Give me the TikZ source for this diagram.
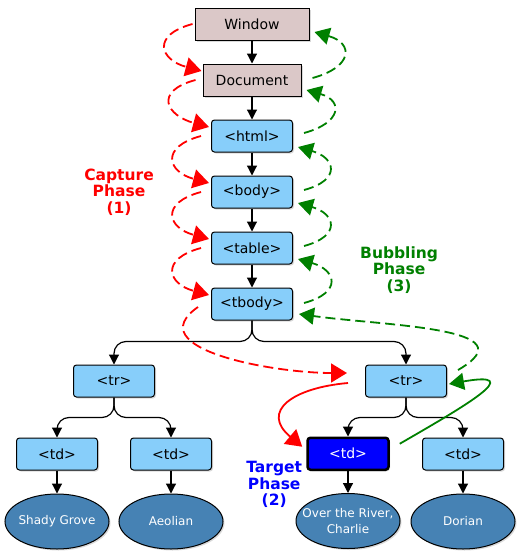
\documentclass[tikz,border=0pt]{standalone}
\usepackage{fontspec}
\setmainfont{DejaVu Sans}
\usepackage{tikz}
\usetikzlibrary{positioning,arrows.meta,shadows,shapes.geometric}
\definecolor{winclr}{RGB}{219,200,200}
\definecolor{elemclr}{RGB}{135,206,250}
\definecolor{leafclr}{RGB}{70,130,180}
\definecolor{capclr}{RGB}{255,0,0}
\definecolor{bubclr}{RGB}{0,128,0}
\definecolor{tgtclr}{RGB}{0,0,255}
\tikzset{ %
  ,>={Triangle[length=10pt,width=10pt]}
  ,every node/.style={font=\fontsize{14}{16}\selectfont}
  ,soft/.style={drop shadow={shadow xshift=1.5pt, shadow yshift=-1.5pt, opacity=0.3}}
  ,winbox/.style={draw, line width=1pt, fill=winclr, minimum height=32pt, soft}
  ,elem/.style={draw, line width=1pt, rounded corners=3pt, fill=elemclr, minimum width=81pt, minimum height=32pt, soft}
  ,target/.style={elem, fill=tgtclr, text=white, line width=2.5pt}
  ,leaf/.style={draw, ellipse, line width=1pt, fill=leafclr, text=white, inner sep=0, inner xsep=-15pt, minimum width=104pt, minimum height=55pt, align=center, font=\fontsize{12}{16}\selectfont, soft}
  ,phaselbl/.style={inner sep=0, align=center, font=\bfseries\fontsize{15.5}{16.5}\selectfont}
  ,tree/.style={line width=1.2pt}
  ,branch/.style={->, tree, rounded corners=12pt}
  ,capture/.style={color=capclr, line width=1.8pt, dash pattern=on 10pt off 5pt, -{Triangle[length=16pt,width=19pt]}, out=195, in=165, looseness=2.3}
  ,bubble/.style={color=bubclr, line width=1.8pt, dash pattern=on 10pt off 5pt, -{Triangle[length=15pt,width=17pt]}, out=15, in=-16, looseness=2.3}
}
\begin{document}
\begin{tikzpicture}[x=1pt, y=1pt]
      \useasboundingbox (0,0) rectangle (520,-560);
      \draw
      node[winbox, minimum width=114pt] (win) at (252,-24) {Window}
      node[winbox, minimum width=98pt, below=23pt of win] (doc) {Document}
      node[elem, below=23pt of doc] (html) {<html>}
      node[elem, below=23pt of html] (body) {<body>}
      node[elem, below=23pt of body] (table) {<table>}
      node[elem, below=23pt of table] (tbody) {<tbody>}
      node[elem, below=44pt of tbody, xshift=-138pt] (trL) {<tr>}
      node[elem, below=44pt of tbody, xshift=154pt] (trR) {<tr>}
      node[elem, below=40pt of trL, xshift=-57pt] (tdA) {<td>}
      node[elem, below=40pt of trL, xshift=57pt] (tdB) {<td>}
      node[target, below=39pt of trR, xshift=-58pt] (tdC) {<td>}
      node[elem, below=40pt of trR, xshift=57pt] (tdD) {<td>}
      node[leaf, below=23pt of tdA] (shady) {Shady Grove}
      node[leaf, below=23pt of tdB] (aeolian) {Aeolian}
      node[leaf, below=22pt of tdC] (river) {Over the River,\\Charlie}
      node[leaf, below=23pt of tdD] (dorian) {Dorian};
      \draw [->, tree] (win) edge (doc) (doc) edge (html) (html) edge (body) (body) edge (table) (table) edge (tbody)
        (tdA) edge (shady) (tdB) edge (aeolian) (tdC) edge (river) (tdD) edge (dorian);
      \draw[branch] (tbody.south) -- ++(0,-21pt) -| (trL.north);
      \draw[branch] (tbody.south) -- ++(0,-21pt) -| (trR.north);
      \draw[branch] (trL.south) -- ++(0,-20pt) -| (tdA.north);
      \draw[branch] (trL.south) -- ++(0,-20pt) -| (tdB.north);
      \draw[branch] (trR.south) -- ++(0,-20pt) -| (tdC.north);
      \draw[branch] (trR.south) -- ++(0,-20pt) -| (tdD.north);
      % capture phase
      \draw[capture] ([xshift=-2pt]win.west) to ([xshift=-1pt,yshift=9pt]doc.west);
      \draw[capture] ([xshift=-7pt]doc.west) to ([xshift=-2pt,yshift=9pt]html.west);
      \draw[capture] ([xshift=-10pt]html.west) to ([xshift=-2pt,yshift=9pt]body.west);
      \draw[capture] ([xshift=-10pt]body.west) to ([xshift=-2pt,yshift=9pt]table.west);
      \draw[capture] ([xshift=-10pt]table.west) to ([xshift=-2pt,yshift=9pt]tbody.west);
      \draw[capture, out=215, in=180, looseness=1.15] ([xshift=-13pt,yshift=-3pt]tbody.west) to ([xshift=-18pt,yshift=8pt]trR.west);
      % target phase
      \draw[capture, solid, out=185, in=140, looseness=1.8] ([xshift=-17pt,yshift=-2pt]trR.west) to ([xshift=-4pt,yshift=7pt]tdC.west);
      \draw[bubble, solid, out=30, in=10, looseness=2.6] ([xshift=10pt,yshift=10pt]tdC.east) to ([xshift=2pt,yshift=-3pt]trR.east);
      % bubbling phase
      \draw[bubble, out=30, in=-8, looseness=1.3] ([xshift=11pt,yshift=11pt]trR.east) to ([xshift=6pt,yshift=-10pt]tbody.east);
      \draw[bubble] ([xshift=11pt,yshift=1pt]tbody.east) to ([xshift=5pt,yshift=-11pt]table.east);
      \draw[bubble] ([xshift=11pt,yshift=2pt]table.east) to ([xshift=5pt,yshift=-11pt]body.east);
      \draw[bubble] ([xshift=11pt,yshift=2pt]body.east) to ([xshift=5pt,yshift=-11pt]html.east);
      \draw[bubble] ([xshift=11pt,yshift=3pt]html.east) to ([xshift=5pt,yshift=-10pt]doc.east);
      \draw[bubble] ([xshift=11pt,yshift=2pt]doc.east) to ([xshift=5pt,yshift=-8pt]win.east);
      \node[phaselbl, text=capclr, left=57pt of body] (capL) {Capture\\Phase\\(1)};
      \node[phaselbl, text=tgtclr, below left=-10pt and 4pt of tdC] (tgtL) {Target\\Phase\\(2)};
      \node[phaselbl, text=bubclr, right=67pt of table, yshift=-22pt] (bubL) {Bubbling\\Phase\\(3)};
    \end{tikzpicture}
\end{document}
